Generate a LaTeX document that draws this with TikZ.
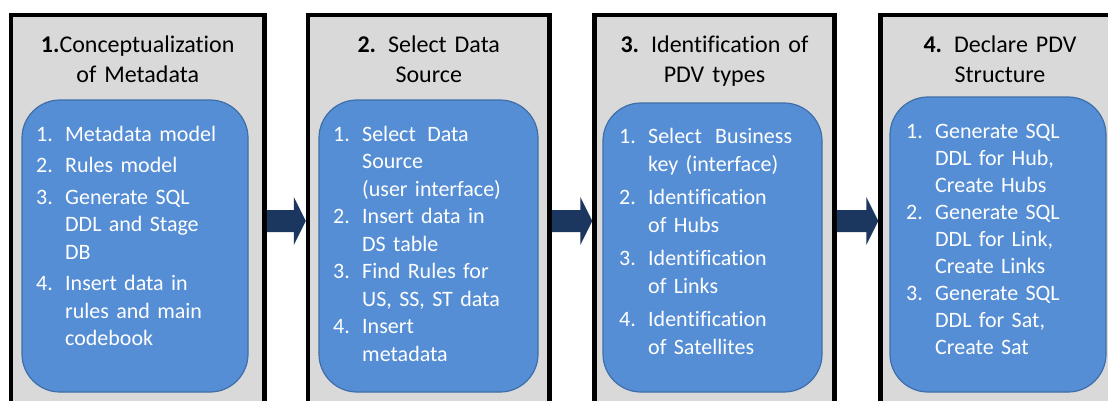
\documentclass[tikz,border=0pt]{standalone}
\usepackage{fontspec}
\setmainfont{Carlito}[Ligatures=CommonOff]

\definecolor{panelgray}{HTML}{D9D9D9}
\definecolor{stepblue}{HTML}{558ED5}
\definecolor{stepedge}{HTML}{3F6EA8}
\definecolor{flownavy}{HTML}{1B365F}

% numbered entries: hanging number, wrapped lines indented
\newcommand\itmfirst[2]{\hangindent=29pt\hangafter=1\noindent\strut\makebox[29pt][l]{#1}#2}
\newcommand\itm[2]{\par\itmfirst{#1}{#2}}

% block arrow from the right side of one panel to the left side of the next
\newcommand\flowarrow[2]{%
  \fill[flownavy] ([yshift=11pt]#1.east) -- ([xshift=-12pt,yshift=11pt]#2.west)
    -- ([xshift=-12pt,yshift=24pt]#2.west) -- (#2.west)
    -- ([xshift=-12pt,yshift=-24pt]#2.west) -- ([xshift=-12pt,yshift=-11pt]#2.west)
    -- ([yshift=-11pt]#1.east) -- cycle;}

\begin{document}
\begin{tikzpicture}[x=1pt,y=-1pt,
  panel/.style={draw=black, line width=4.5pt, fill=panelgray, minimum height=412pt, inner sep=0pt},
  stepbox/.style={draw=stepedge, line width=1.2pt, fill=stepblue, rounded corners=38pt, inner sep=0pt},
  heading/.style={anchor=north, inner sep=0pt, text width=240pt, align=center,
    font=\fontsize{24}{30}\selectfont, text=black},
  listtext/.style={anchor=north west, inner sep=0pt, text width=260pt, text=white}
]
\useasboundingbox (0,0) rectangle (1108,400);
\fill[white] (0,0) rectangle (1108,400);
\clip (0,0) rectangle (1108,400);

% panels
\node[panel, minimum width=253.5pt] (c1) at (137.75,221) {};
\node[panel, minimum width=241.5pt] (c2) at (428.75,221) {};
\node[panel, minimum width=240pt]   (c3) at (714.5,221) {};
\node[panel, minimum width=239pt]   (c4) at (1000,221) {};

% arrows between panels
\flowarrow{c1}{c2}
\flowarrow{c2}{c3}
\flowarrow{c3}{c4}

% headings
\node[heading] (h1) at (137.75,31) {\strut\textbf{1.}Conceptualization\\of Metadata};
\node[heading] (h2) at (428.75,31) {\strut\textbf{2.} Select Data\\Source};
\node[heading] (h3) at (714.5,31) {\strut\textbf{3.} Identification of\\PDV types};
\node[heading] (h4) at (1000,31) {\strut\textbf{4.} Declare PDV\\Structure};

% blue step boxes
\node[stepbox, minimum width=226pt, minimum height=292pt] (b1) at (135,246) {};
\node[stepbox, minimum width=219pt, minimum height=292pt] (b2) at (428.5,246) {};
\node[stepbox, minimum width=219pt, minimum height=289pt] (b3) at (712.5,247.5) {};
\node[stepbox, minimum width=216pt, minimum height=295pt] (b4) at (998,244.5) {};

% step lists
\node[listtext, font=\fontsize{22}{27.5}\selectfont] (t1) at (36,121.75) {\parskip=4pt
  \itmfirst{1.}{Metadata model}
  \itm{2.}{Rules model}
  \itm{3.}{Generate SQL\newline DDL and Stage\newline DB}
  \itm{4.}{Insert data in\newline rules and main\newline codebook}\par};
\node[listtext, font=\fontsize{22}{27.5}\selectfont] (t2) at (333,121.75) {\parskip=0pt
  \itmfirst{1.}{Select\hspace{4pt} Data\newline Source\newline (user interface)}
  \itm{2.}{Insert data in\newline DS table}
  \itm{3.}{Find Rules for\newline US, SS, ST data}
  \itm{4.}{Insert\newline metadata}\par};
\node[listtext, font=\fontsize{22}{28}\selectfont] (t3) at (619,123.4) {\parskip=5pt
  \itmfirst{1.}{Select\hspace{6pt} Business\newline key (interface)}
  \itm{2.}{Identification\newline of Hubs}
  \itm{3.}{Identification\newline of Links}
  \itm{4.}{Identification\newline of Satellites}\par};
\node[listtext, font=\fontsize{22}{27}\selectfont] (t4) at (906,119.1) {\parskip=0pt
  \itmfirst{1.}{Generate SQL\newline DDL for Hub,\newline Create Hubs}
  \itm{2.}{Generate SQL\newline DDL for Link,\newline Create Links}
  \itm{3.}{Generate SQL\newline DDL for Sat,\newline Create Sat}\par};
\end{tikzpicture}
\end{document}
